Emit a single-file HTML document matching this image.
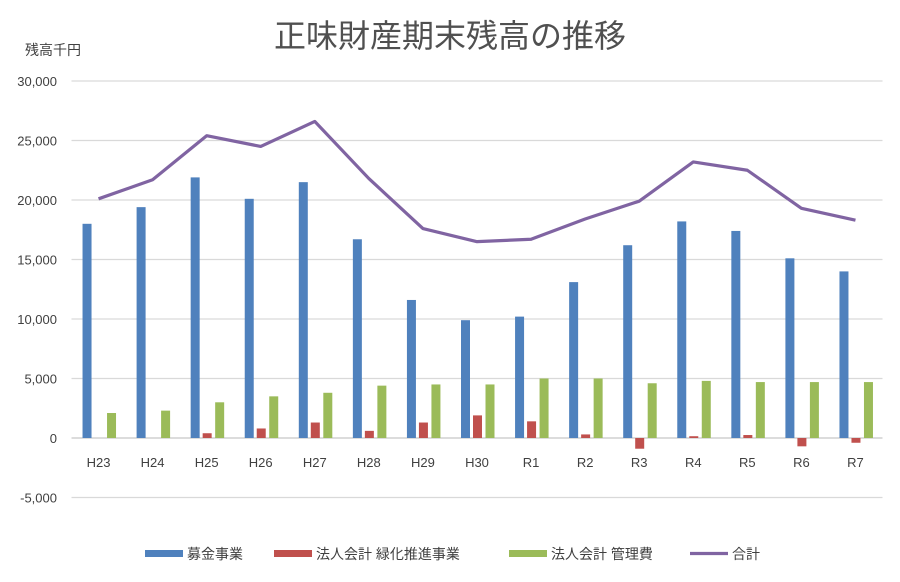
<!DOCTYPE html>
<html><head><meta charset="utf-8"><style>
body{margin:0;background:#fff;}
svg{display:block;font-family:"Liberation Sans","Noto Sans CJK JP",sans-serif;}
</style></head><body>
<svg id="c" width="900" height="582" xmlns="http://www.w3.org/2000/svg">
<rect width="900" height="582" fill="#fff"/>
<text x="450" y="47" text-anchor="middle" font-size="32" fill="#505050">正味財産期末残高の推移</text>
<text x="25" y="55" font-size="14" fill="#404040">残高千円</text>
</svg>
<script>
const s=document.getElementById('c'),NS='http://www.w3.org/2000/svg';
function el(t,a,txt){const e=document.createElementNS(NS,t);for(const k in a)e.setAttribute(k,a[k]);if(txt!==undefined)e.textContent=txt;s.appendChild(e);return e;}
const y0=438,k=357/30000,L=71.5,R=882.5,w=(R-L)/15;
const Y=v=>y0-v*k;
for(let v=-5000;v<=30000;v+=5000){el('line',{x1:L,x2:R,y1:Y(v),y2:Y(v),stroke:v==0?'#c8c8c8':'#d9d9d9','stroke-width':1.2});
el('text',{x:57,y:Y(v)+5,'text-anchor':'end','font-size':13,fill:'#404040'},v.toLocaleString('en-US'));}
const cats=['H23','H24','H25','H26','H27','H28','H29','H30','R1','R2','R3','R4','R5','R6','R7'];
const b=[18000,19400,21900,20100,21500,16700,11600,9900,10200,13100,16200,18200,17400,15100,14000];
const r=[0,0,400,800,1300,600,1300,1900,1400,300,-900,150,250,-700,-400];
const g=[2100,2300,3000,3500,3800,4400,4500,4500,5000,5000,4600,4800,4700,4700,4700];
const t=[20100,21700,25400,24500,26600,21800,17600,16500,16700,18400,19900,23200,22500,19300,18300];
function bar(x,v,c){const a=Math.min(Y(v),y0),h=Math.abs(Y(v)-y0);if(h>0)el('rect',{x:x,y:a,width:9,height:h,fill:c});}
let pts=[];
cats.forEach((n,i)=>{const c=L+w*(i+0.5);
bar(c-16,b[i],'#4f81bd');bar(c-4,r[i],'#c0504d');bar(c+8.5,g[i],'#9bbb59');
el('text',{x:c,y:467,'text-anchor':'middle','font-size':13,fill:'#404040'},n);
pts.push(c+','+Y(t[i]));});
el('polyline',{points:pts.join(' '),fill:'none',stroke:'#8064a2','stroke-width':3.2,'stroke-linejoin':'round'});
const lg=[[145,'#4f81bd','募金事業'],[274,'#c0504d','法人会計 緑化推進事業'],[509,'#9bbb59','法人会計 管理費']];
lg.forEach(([x,c,n])=>{el('rect',{x:x,y:550,width:38,height:7,fill:c});el('text',{x:x+42,y:559,'font-size':14,fill:'#404040'},n);});
el('line',{x1:690,x2:728,y1:553.5,y2:553.5,stroke:'#8064a2','stroke-width':3.2});
el('text',{x:732,y:559,'font-size':14,fill:'#404040'},'合計');
</script>
</body></html>
